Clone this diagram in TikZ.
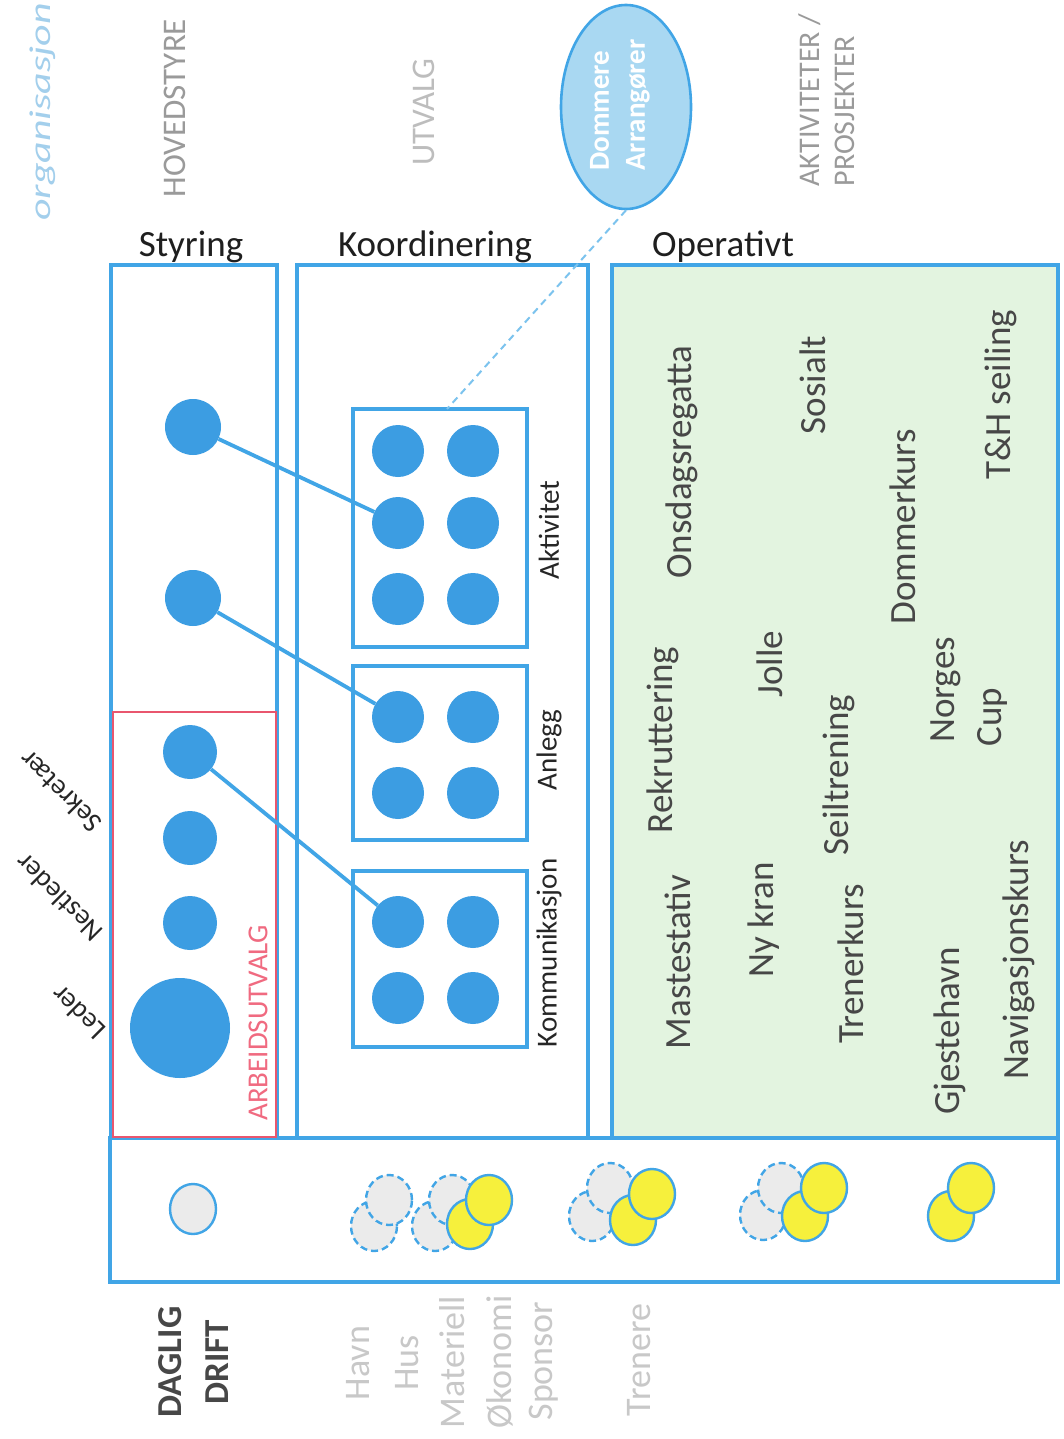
\documentclass[tikz,border=0pt]{standalone}
\usepackage{fontspec}
\setmainfont{Carlito}
\usetikzlibrary{shapes.geometric}
\definecolor{cblue}{HTML}{3C9DE2}
\definecolor{lblue}{HTML}{41A5E6}
\definecolor{ellfill}{HTML}{A9D8F2}
\definecolor{dashblue}{HTML}{7CC3EE}
\definecolor{opgreen}{HTML}{E3F4E0}
\definecolor{cgray}{HTML}{EBEBEB}
\definecolor{cyellow}{HTML}{F6F03C}
\definecolor{redbox}{HTML}{E9566E}
\definecolor{redtxt}{HTML}{F06A80}
\definecolor{optext}{HTML}{474747}
\definecolor{hgray}{HTML}{9A9A9A}
\definecolor{ugray}{HTML}{BDBDBD}
\definecolor{bgray}{HTML}{C8C8C8}
\definecolor{hand}{HTML}{A3CFEC}
\newcommand{\fsz}[1]{\fontsize{#1}{#1}\selectfont}
\begin{document}
\begin{tikzpicture}[x=1pt,y=-1pt,
  frame/.style={draw=lblue, line width=3.2pt},
  subbox/.style={draw=lblue, line width=3.2pt, inner sep=0pt},
  dot/.style={circle, fill=cblue, inner sep=0pt, minimum size=#1},
  conn/.style={draw=lblue, line width=3.8pt},
  vtext/.style={rotate=90, inner sep=0pt},
  optxt/.style={vtext, text=optext, font=\fsz{37}},
  sublbl/.style={vtext, text=black!85, font=\fsz{29}},
  head/.style={anchor=base, inner sep=0pt, text=black!88, font=\fsz{37}},
  role/.style={rotate=135, inner sep=0pt, text=black!85, font=\fsz{28}},
  bl/.style={vtext, text=bgray, font=\fsz{36}},
  ball/.style={ellipse, draw=lblue, line width=2.4pt, fill=cgray, minimum width=46pt, minimum height=50pt, inner sep=0pt},
  dball/.style={ball, dash pattern=on 7pt off 4pt},
  yball/.style={ball, fill=cyellow}
]
\useasboundingbox (0,0) rectangle (1064,1439);
\fill[white] (0,0) rectangle (1064,1439);

% main frames
\draw[frame, fill=opgreen] (612,265) rectangle (1058,1138);
\draw[frame] (111,265) rectangle (277,1138);
\draw[frame] (297,265) rectangle (588,1138);
\draw[frame] (110,1138) rectangle (1058,1282);
\draw[draw=redbox, line width=2.2pt] (113,712) rectangle (276,1137);

% headers
\node[head] (hsty) at (191,256) {Styring};
\node[head] (hkoo) at (435,256) {Koordinering};
\node[head] (hope) at (723,256) {Operativt};

% top grey labels
\node[vtext, text=hgray, font=\fsz{33}] (hov) at (175,108) {HOVEDSTYRE};
\node[vtext, text=ugray, font=\fsz{33}] (utv) at (424,112) {UTVALG};
\node[vtext, text=hgray, font=\fontsize{30}{35}\selectfont, align=left] (akp) at (827,100) {AKTIVITETER /\\PROSJEKTER};
\node[rotate=90, xscale=1.4, text=hand, font=\itshape\fsz{30}, inner sep=0pt] (hw) at (43,112) {organisasjon};

% ellipse
\node[ellipse, draw=lblue, line width=2.6pt, fill=ellfill, minimum width=130pt, minimum height=204pt, inner sep=0pt] (dom) at (626,107) {};
\node[vtext, align=left, text=white, font=\bfseries\fontsize{29}{36}\selectfont] (domtxt) at (620,105) {Dommere\\Arrangører};

% Styring circles
\node[dot=56pt] (s1) at (193,427) {};
\node[dot=56pt] (s2) at (193,598) {};
\node[dot=54pt] (s3) at (190,752) {};
\node[dot=54pt] (s4) at (190,838) {};
\node[dot=54pt] (s5) at (190,923) {};
\node[dot=100pt] (s6) at (180,1028) {};
\node[vtext, text=redtxt, font=\fsz{29}] (arb) at (258,1023) {ARBEIDSUTVALG};
\node[role] (sek) at (60,792) {Sekretær};
\node[role] (nes) at (59,898) {Nestleder};
\node[role] (led) at (78,1013) {Leder};

% Koordinering sub-boxes
\node[subbox, minimum width=174pt, minimum height=238pt] (akt) at (440,528) {};
\node[subbox, minimum width=174pt, minimum height=174pt] (anl) at (440,753) {};
\node[subbox, minimum width=174pt, minimum height=176pt] (kom) at (440,959) {};
\node[dot=52pt] (a11) at (398,451) {};
\node[dot=52pt] (a12) at (473,451) {};
\node[dot=52pt] (a21) at (398,523) {};
\node[dot=52pt] (a22) at (473,523) {};
\node[dot=52pt] (a31) at (398,599) {};
\node[dot=52pt] (a32) at (473,599) {};
\node[dot=52pt] (n11) at (398,717) {};
\node[dot=52pt] (n12) at (473,717) {};
\node[dot=52pt] (n21) at (398,793) {};
\node[dot=52pt] (n22) at (473,793) {};
\node[dot=52pt] (k11) at (398,922) {};
\node[dot=52pt] (k12) at (473,922) {};
\node[dot=52pt] (k21) at (398,998) {};
\node[dot=52pt] (k22) at (473,998) {};
\node[sublbl] (lakt) at (549,530) {Aktivitet};
\node[sublbl] (lanl) at (549,750) {Anlegg};
\node[sublbl] (lkom) at (549,953) {Kommunikasjon};

% connectors
\draw[conn] (s1) -- (a21);
\draw[conn] (s2) -- (n11);
\draw[conn] (s3) -- (k11);
\coordinate (aktc) at (447,409);
\draw[dashblue, line width=2pt, dash pattern=on 7pt off 5pt] (dom.south) -- (aktc);

% Operativt items
\node[optxt] (o1) at (682,462) {Onsdagsregatta};
\node[optxt] (o2) at (813,385) {Sosialt};
\node[optxt] (o3) at (903,527) {Dommerkurs};
\node[optxt] (o4) at (1001,395) {T\&H seiling};
\node[optxt] (o5) at (770,664) {Jolle};
\node[optxt] (o6) at (663,740) {Rekruttering};
\node[optxt] (o7) at (678,962) {Mastestativ};
\node[optxt] (o8) at (764,920) {Ny kran};
\node[optxt] (o9) at (839,775) {Seiltrening};
\node[optxt] (o10) at (851,964) {Trenerkurs};
\node[optxt] (o11) at (946,690) {Norges};
\node[optxt] (o12) at (992,717) {Cup};
\node[optxt] (o13) at (950,1031) {Gjestehavn};
\node[optxt] (o14) at (1019,960) {Navigasjonskurs};

% bottom row balls
\node[ball] (b1) at (193,1209) {};
\node[dball] (b2a) at (374,1226) {};
\node[dball] (b2b) at (389,1200) {};
\node[dball] (b3a) at (435,1226) {};
\node[dball] (b3b) at (452,1200) {};
\node[yball] (b3c) at (470,1224) {};
\node[yball] (b3d) at (489,1200) {};
\node[dball] (b4a) at (592,1216) {};
\node[dball] (b4b) at (610,1188) {};
\node[yball] (b4c) at (633,1220) {};
\node[yball] (b4d) at (652,1194) {};
\node[dball] (b5a) at (763,1215) {};
\node[dball] (b5b) at (781,1188) {};
\node[yball] (b5c) at (805,1216) {};
\node[yball] (b5d) at (824,1188) {};
\node[yball] (b6a) at (951,1216) {};
\node[yball] (b6b) at (971,1188) {};

% bottom labels
\node[vtext, align=center, text=black!72, font=\bfseries\fontsize{35}{47}\selectfont] (dd) at (194,1362) {DAGLIG\\DRIFT};
\node[bl] (l1) at (358,1363) {Havn};
\node[bl] (l2) at (407,1363) {Hus};
\node[bl] (l3) at (452,1362) {Materiell};
\node[bl] (l4) at (500,1362) {Økonomi};
\node[bl] (l5) at (544,1361) {Sponsor};
\node[bl] (l6) at (639,1360) {Trenere};
\end{tikzpicture}
\end{document}
